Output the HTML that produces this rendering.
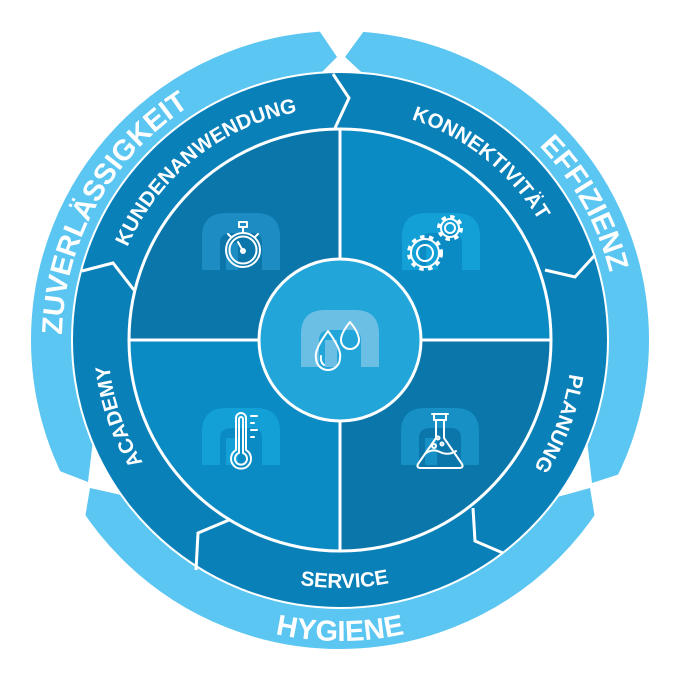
<!DOCTYPE html>
<html><head><meta charset="utf-8"><style>
html,body{margin:0;padding:0;background:#fff;width:680px;height:680px;overflow:hidden}
svg{display:block}
.t{font-family:"Liberation Sans",sans-serif;font-weight:bold;fill:#fff}
</style></head><body>
<svg width="680" height="680" viewBox="0 0 680 680" xmlns="http://www.w3.org/2000/svg">
<defs>
<path id="cwO" d="M340,618 A278,278 0 1 1 340,62 A278,278 0 1 1 340,618"/>
<path id="cwM" d="M340,572 A232,232 0 1 1 340,108 A232,232 0 1 1 340,572"/>
<path id="ccO" d="M340,39 A301,301 0 1 0 340,641 A301,301 0 1 0 340,39"/>
<path id="ccM" d="M340,92 A248,248 0 1 0 340,588 A248,248 0 1 0 340,92"/>
<path id="mshape" d="M0,57 V24 Q0,0 24,0 H54 Q78,0 78,24 V57 H60 V30 Q60,20 50,20 H30 Q18,20 18,30 V57 Z M24,57 V30 H36 V57 Z"/>
</defs>

<circle cx="340" cy="340" r="288" fill="none" stroke="#5bc6f1" stroke-width="42"/>
<polygon points="312,20 337,57 312,82 372,82 345,57 372,20" fill="#fff"/>
<polygon points="30,462 57,470 88,482 93,440 108,440 130,497 90,488 84,524 30,524" fill="#fff"/>
<polygon points="650,462 623,473 592,483 587,440 572,440 550,499 590,488 596,524 650,524" fill="#fff"/>

<circle cx="340" cy="340" r="268" fill="#0a80b9"/>
<circle cx="340" cy="340" r="268" fill="none" stroke="#fff" stroke-width="2"/>

<g fill="none" stroke="#fff" stroke-width="3">
<polyline points="333,74 349,98 335,128"/>
<polyline points="82,271 113,263 134,290"/>
<polyline points="545,270 575,277 595,255"/>
<polyline points="229,520 198,533 196,570"/>
<polyline points="473,508 475,541 503,553"/>
</g>

<path d="M340,340 L129,340 A211,211 0 0 1 340,129 Z" fill="#0a76a9"/>
<path d="M340,340 L340,129 A211,211 0 0 1 551,340 Z" fill="#0b8bc4"/>
<path d="M340,340 L551,340 A211,211 0 0 1 340,551 Z" fill="#0a76a9"/>
<path d="M340,340 L340,551 A211,211 0 0 1 129,340 Z" fill="#0b8bc4"/>
<circle cx="340" cy="340" r="211" fill="none" stroke="#fff" stroke-width="3"/>
<line x1="340" y1="129" x2="340" y2="551" stroke="#fff" stroke-width="3"/>
<line x1="129" y1="340" x2="551" y2="340" stroke="#fff" stroke-width="3"/>

<use href="#mshape" x="202" y="213" fill="#1c8cc2"/>
<use href="#mshape" x="402" y="213" fill="#12a0d7"/>
<use href="#mshape" x="202" y="408" fill="#12a0d7"/>
<use href="#mshape" x="401" y="408" fill="#1790c6"/>

<circle cx="340" cy="340" r="81" fill="#22a6d9" stroke="#fff" stroke-width="3"/>
<use href="#mshape" x="301" y="310" fill="#6bbee4"/>

<g fill="none" stroke="#fff" stroke-width="2" stroke-linecap="round" stroke-linejoin="round">
<circle cx="243" cy="250" r="17"/>
<circle cx="243" cy="250" r="13.5"/>
<rect x="239" y="222" width="8" height="5"/>
<line x1="243" y1="227" x2="243" y2="233"/>
<line x1="228" y1="234" x2="231" y2="237"/>
<line x1="258" y1="234" x2="255" y2="237"/>
<line x1="243" y1="251" x2="238" y2="242"/>
<circle cx="243" cy="251" r="2"/>
<circle cx="425" cy="253" r="8"/>
<circle cx="425" cy="253" r="14"/>
<circle cx="450" cy="228" r="5"/>
<circle cx="450" cy="228" r="9"/>
<path d="M236,450 V418 A5,5 0 0 1 246,418 V450 A10,10 0 1 1 236,450 Z"/>
<path d="M239,453 V419 A2,2 0 0 1 243,419 V453 A6,6 0 1 1 239,453 Z"/>
<line x1="251" y1="416" x2="257" y2="416"/>
<line x1="251" y1="423" x2="254" y2="423"/>
<line x1="251" y1="430" x2="257" y2="430"/>
<line x1="251" y1="437" x2="254" y2="437"/>
<path d="M432,414 H448 M434,414 V420 H446 V414 M436,420 V438 L418,464 Q416,468 421,468 H459 Q464,468 462,464 L444,438 V420"/>
<path d="M425,454 Q432,448 440,452 Q448,456 456,451"/>
<circle cx="438" cy="438" r="1.5"/>
<circle cx="434" cy="446" r="2"/>
<circle cx="442" cy="444" r="1.5"/>
<path d="M328,331 Q314,350 316,358 A12,12 0 0 0 340,358 Q342,350 328,331 Z"/>
<path d="M321,356 Q320,362 324,365"/>
<path d="M350,322 Q341,333 341,340 A9,9 0 0 0 359,340 Q359,333 350,322 Z"/>
</g>
<g fill="none" stroke="#fff" stroke-width="4" stroke-dasharray="4.4 4.4">
<circle cx="425" cy="253" r="16"/>
<circle cx="450" cy="228" r="11" stroke-dasharray="4.3 4.3"/>
</g>

<text class="t" font-size="29"><textPath href="#cwO" startOffset="33.1%" text-anchor="middle">ZUVERLÄSSIGKEIT</textPath></text>
<text class="t" font-size="29"><textPath href="#cwO" startOffset="66.9%" text-anchor="middle">EFFIZIENZ</textPath></text>
<text class="t" font-size="29"><textPath href="#ccO" startOffset="50%" text-anchor="middle">HYGIENE</textPath></text>

<text class="t" font-size="20.5"><textPath href="#cwM" startOffset="39.3%" text-anchor="middle">KUNDENANWENDUNG</textPath></text>
<text class="t" font-size="20.5"><textPath href="#cwM" startOffset="60.7%" text-anchor="middle">KONNEKTIVITÄT</textPath></text>
<text class="t" font-size="20.5"><textPath href="#cwM" startOffset="80.8%" text-anchor="middle">PLANUNG</textPath></text>
<text class="t" font-size="20.5"><textPath href="#cwM" startOffset="19.7%" text-anchor="middle">ACADEMY</textPath></text>
<text class="t" font-size="20.5"><textPath href="#ccM" startOffset="50.3%" text-anchor="middle">SERVICE</textPath></text>
</svg>
</body></html>
